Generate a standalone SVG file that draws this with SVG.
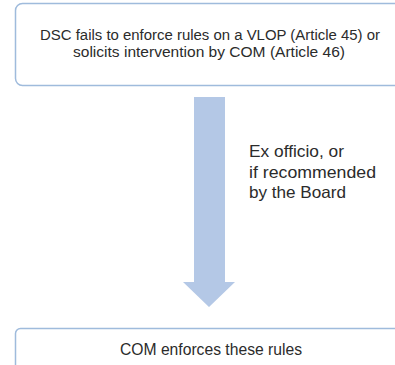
<svg xmlns="http://www.w3.org/2000/svg" width="395" height="365" viewBox="0 0 395 365">
  <style>
    .box { fill: #ffffff; stroke: #9fbbdc; stroke-width: 1.5; }
    .txt { font-family: "Liberation Sans", Arial, sans-serif; fill: #2b2b2b; }
    .arrow { fill: #b4c8e6; }
  </style>
  <rect x="0" y="0" width="395" height="365" fill="#ffffff"/>
  <g id="connectors">
    <polygon class="arrow" points="194,97 225,97 225,282 235,282 209,307 183,282 194,282"/>
    <g class="txt" font-size="16.5">
      <text x="249" y="157" textLength="95" lengthAdjust="spacingAndGlyphs">Ex officio, or</text>
      <text x="249" y="178" textLength="127" lengthAdjust="spacingAndGlyphs">if recommended</text>
      <text x="249" y="198" textLength="97" lengthAdjust="spacingAndGlyphs">by the Board</text>
    </g>
  </g>
  <g id="node-dsc">
    <rect class="box" x="15.5" y="3.5" width="400" height="82" rx="7"/>
    <text class="txt" font-size="14" x="40" y="40" textLength="340" lengthAdjust="spacingAndGlyphs">DSC fails to enforce rules on a VLOP (Article 45) or</text>
    <text class="txt" font-size="14" x="73" y="57" textLength="272" lengthAdjust="spacingAndGlyphs">solicits intervention by COM (Article 46)</text>
  </g>
  <g id="node-com">
    <rect class="box" x="15.5" y="328.5" width="400" height="50" rx="5"/>
    <text class="txt" font-size="16" x="120" y="355" textLength="182" lengthAdjust="spacingAndGlyphs">COM enforces these rules</text>
  </g>
</svg>
